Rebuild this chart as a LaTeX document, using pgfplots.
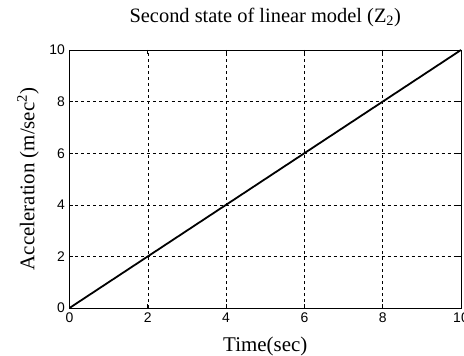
\documentclass[border=0pt]{standalone}
\usepackage{fontspec}
\setmainfont{Liberation Serif}
\newfontfamily\ticksf{Liberation Sans}
\usepackage{pgfplots}
\pgfplotsset{compat=1.18}
\begin{document}
\begin{tikzpicture}[x=1bp,y=1bp]
\begin{axis}[
  scale only axis,
  width=391.5bp, height=258bp,
  xmin=0, xmax=10, ymin=0, ymax=10,
  xtick={0,2,...,10}, ytick={0,2,...,10},
  grid=major,
  major grid style={black, line width=0.5bp, dash pattern=on 3bp off 3bp},
  axis line style={black, line width=0.8bp},
  tick style={black, line width=0.6bp},
  tick align=inside,
  major tick length=4bp,
  /pgf/number format/assume math mode=true,
  xticklabel={\ticksf\fontsize{14}{15}\selectfont\pgfmathprintnumber{\tick}},
  yticklabel={\ticksf\fontsize{14}{15}\selectfont\pgfmathprintnumber{\tick}},
  xticklabel style={yshift=-1bp},
  yticklabel style={xshift=-1bp},
  title={Second state of linear model (Z\textsubscript{2})},
  title style={font=\fontsize{20.5}{22}\selectfont, at={(axis description cs:0.5,1)}, anchor=base, yshift=22bp},
  xlabel={Time(sec)},
  xlabel style={font=\fontsize{21}{22}\selectfont, at={(axis description cs:0.5,0)}, anchor=base, yshift=-43bp},
  ylabel={Acceleration (m/sec\textsuperscript{2})},
  ylabel style={font=\fontsize{21}{22}\selectfont, at={(axis description cs:-0.106,0.5)}, anchor=center, rotate=0},
]
\addplot[black, line width=1.8bp] coordinates {(0,0) (10,10)};
\coordinate (sw) at (rel axis cs:0,0);
\end{axis}
\pgfresetboundingbox
\path ([shift={(-69.5bp,-48bp)}]sw) rectangle ([shift={(394.5bp,308bp)}]sw);
\end{tikzpicture}
\end{document}
